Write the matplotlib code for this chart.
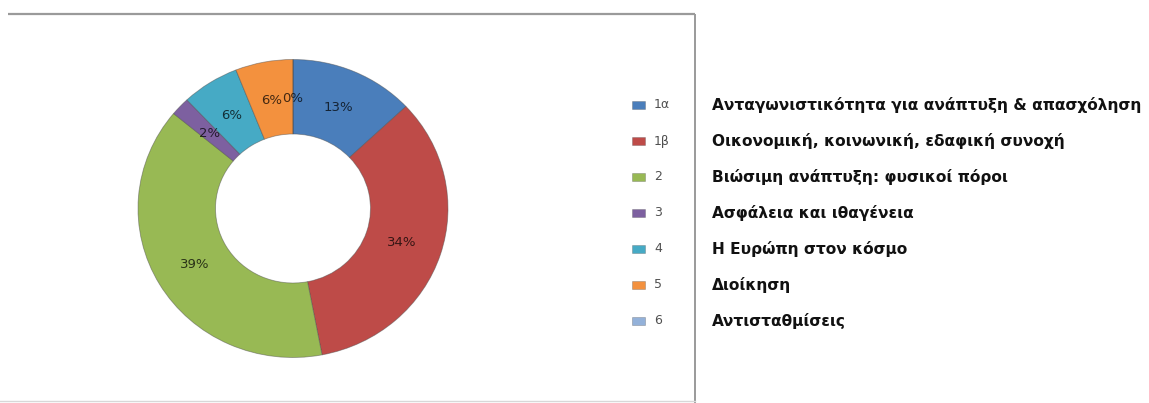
import matplotlib
matplotlib.use("Agg")
import matplotlib.pyplot as plt
from matplotlib.patches import Rectangle

# ---- data ----
codes = ["1α", "1β", "2", "3", "4", "5", "6"]
descriptions = [
    "Ανταγωνιστικότητα για ανάπτυξη & απασχόληση",
    "Οικονομική, κοινωνική, εδαφική συνοχή",
    "Βιώσιμη ανάπτυξη: φυσικοί πόροι",
    "Ασφάλεια και ιθαγένεια",
    "Η Ευρώπη στον κόσμο",
    "Διοίκηση",
    "Αντισταθμίσεις",
]
values = [13, 34, 39, 2, 6, 6, 0]
colors = ["#4A7EBB", "#BE4B48", "#98B954", "#7D60A0", "#46AAC5", "#F3913E", "#93B1D9"]

W, H = 1149, 403
fig = plt.figure(figsize=(W / 100, H / 100), dpi=100)
fig.patch.set_facecolor("white")

# overlay axes in pixel coordinates (for frame lines, legend)
ov = fig.add_axes([0, 0, 1, 1])
ov.set_xlim(0, W)
ov.set_ylim(H, 0)
ov.axis("off")

# chart-area frame (top and right edges, faint bottom)
ov.plot([8, 695], [14, 14], color="#9a9a9a", lw=1.6, solid_capstyle="butt")
ov.plot([695, 695], [14, H], color="#9a9a9a", lw=1.4, solid_capstyle="butt")
ov.plot([0, 695], [401, 401], color="#d8d8d8", lw=1.0)

# donut axes
cx, cy, rx, ry = 293, 208.5, 155, 149
ax = fig.add_axes([(cx - rx) / W, (H - cy - ry) / H, 2 * rx / W, 2 * ry / H])
wedges, texts, autotexts = ax.pie(
    values,
    colors=colors,
    startangle=90,
    counterclock=False,
    radius=1.0,
    autopct=lambda p: f"{p:.0f}%",
    pctdistance=0.74,
    wedgeprops=dict(width=0.5, edgecolor=(0.3, 0.3, 0.3, 0.5), linewidth=0.6),
    textprops=dict(fontsize=9.5, color="black", alpha=0.72, family="DejaVu Sans"),
)
ax.set_aspect("auto")
ax.set_xlim(-1, 1)
ax.set_ylim(-1, 1)
ax.axis("off")

# legend with descriptions
y0, step = 105, 36
for i, (code, desc, col) in enumerate(zip(codes, descriptions, colors)):
    y = y0 + i * step
    ov.add_patch(Rectangle((632, y - 4), 13, 8, facecolor=col,
                           edgecolor=(0.3, 0.3, 0.3, 0.4), lw=0.5))
    ov.text(654, y, code, fontsize=9, color="#505050", va="center", ha="left",
            family="DejaVu Sans")
    ov.text(712, y, desc, fontsize=11.1, color="#111111", va="center", ha="left",
            family="DejaVu Sans", fontweight="bold")

fig.savefig("out.png", dpi=100)
